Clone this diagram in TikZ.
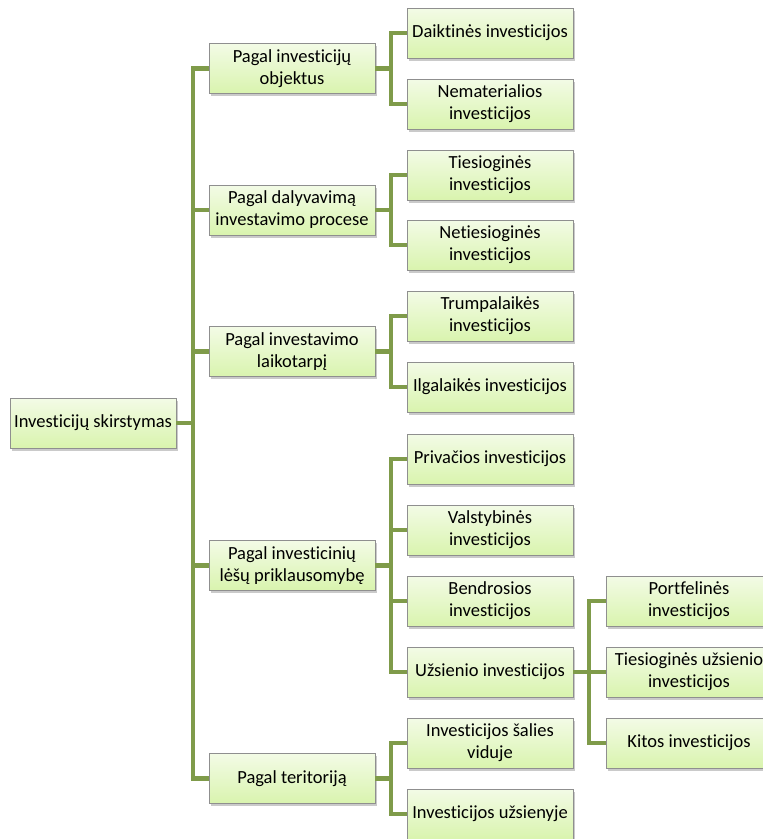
\documentclass[tikz,border=0pt]{standalone}
\usepackage{fontspec}
\setmainfont{Carlito}[Ligatures={NoCommon}]
\usetikzlibrary{shadows}
\definecolor{conncol}{HTML}{7F9B4A}
\definecolor{boxtop}{HTML}{F3FBE6}
\definecolor{boxbot}{HTML}{D9F4AE}
\definecolor{boxline}{HTML}{8F8F8F}
\tikzset{
  box/.style={draw=boxline, line width=0.8pt, top color=boxtop, bottom color=boxbot,
    minimum width=166pt, minimum height=50pt, inner sep=1pt, align=center,
    font=\fontsize{18.5}{22}\selectfont,
    drop shadow={shadow xshift=1.5pt, shadow yshift=-2.5pt, opacity=0.35, fill=black!60}},
  conn/.style={draw=conncol, line width=4.2pt, line join=miter}
}
\begin{document}
\begin{tikzpicture}[x=1pt,y=-1pt]
\useasboundingbox (0,0) rectangle (763,839);
\clip (0,0) rectangle (763,839);
% junction coordinates
\coordinate (j0) at (193,423);
\coordinate (ja) at (391,68.5);
\coordinate (jb) at (391,210);
\coordinate (jc) at (391,351.5);
\coordinate (jd) at (391,565.5);
\coordinate (je) at (391,778.5);
\coordinate (jf) at (589,672);
% nodes
\node[box] (root) at (93,423) {Investicijų skirstymas};
\node[box] (a) at (292,68.5) {Pagal investicijų\\objektus};
\node[box] (b) at (292,210) {Pagal dalyvavimą\\investavimo procese};
\node[box] (c) at (292,351.5) {Pagal investavimo\\laikotarpį};
\node[box] (d) at (292,565.5) {Pagal investicinių\\lėšų priklausomybę};
\node[box] (e) at (292,778.5) {Pagal teritoriją};
\node[box] (a1) at (490,33) {Daiktinės investicijos};
\node[box] (a2) at (490,104) {Nematerialios\\investicijos};
\node[box] (b1) at (490,175) {Tiesioginės\\investicijos};
\node[box] (b2) at (490,245) {Netiesioginės\\investicijos};
\node[box] (c1) at (490,316) {Trumpalaikės\\investicijos};
\node[box] (c2) at (490,387) {Ilgalaikės investicijos};
\node[box] (d1) at (490,459) {Privačios investicijos};
\node[box] (d2) at (490,530) {Valstybinės\\investicijos};
\node[box] (d3) at (490,601) {Bendrosios\\investicijos};
\node[box] (d4) at (490,672) {Užsienio investicijos};
\node[box] (e1) at (490,743) {Investicijos šalies\\viduje};
\node[box] (e2) at (490,814) {Investicijos užsienyje};
\node[box] (f1) at (689,601) {Portfelinės\\investicijos};
\node[box] (f2) at (689,672) {Tiesioginės užsienio\\investicijos};
\node[box] (f3) at (689,743) {Kitos investicijos};
% connectors
\draw[conn] (root.east) -- (j0);
\foreach \n in {a,b,c,d,e} { \draw[conn] (j0) |- (\n.west); }
\draw[conn] (a.east) -- (ja);
\foreach \n in {a1,a2} { \draw[conn] (ja) |- (\n.west); }
\draw[conn] (b.east) -- (jb);
\foreach \n in {b1,b2} { \draw[conn] (jb) |- (\n.west); }
\draw[conn] (c.east) -- (jc);
\foreach \n in {c1,c2} { \draw[conn] (jc) |- (\n.west); }
\draw[conn] (d.east) -- (jd);
\foreach \n in {d1,d2,d3,d4} { \draw[conn] (jd) |- (\n.west); }
\draw[conn] (e.east) -- (je);
\foreach \n in {e1,e2} { \draw[conn] (je) |- (\n.west); }
\draw[conn] (d4.east) -- (jf);
\foreach \n in {f1,f2,f3} { \draw[conn] (jf) |- (\n.west); }
\end{tikzpicture}
\end{document}
